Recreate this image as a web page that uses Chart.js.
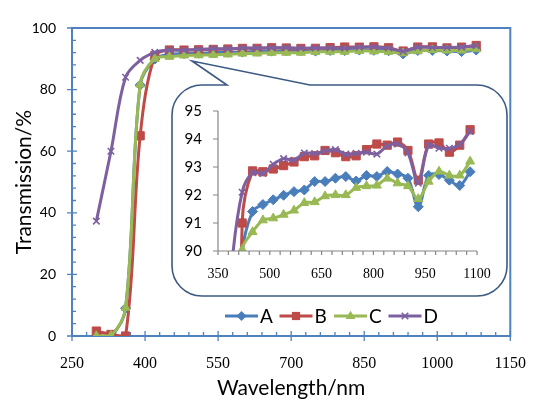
<!DOCTYPE html>
<html>
<head>
<meta charset="utf-8">
<script src="https://cdn.jsdelivr.net/npm/chart.js@4.4.1/dist/chart.umd.min.js"></script>
<style>
  html, body { margin: 0; padding: 0; background: #fff; }
  #wrap { position: relative; width: 544px; height: 408px; }
  #main { position: absolute; left: 0; top: 0; }
  #inset { position: absolute; left: 172px; top: 86px; }
</style>
</head>
<body>
<div id="wrap">
  <canvas id="main" width="544" height="408"></canvas>
  <canvas id="inset" width="334" height="209"></canvas>
</div>
<script>
// wavelength of every measured point (nm)
var wavelengths = [300, 330, 360, 390, 420, 450, 480, 510, 540, 570, 600, 630, 660, 690,
                   720, 750, 780, 810, 840, 870, 900, 930, 960, 990, 1020, 1050, 1080];

// transmission (%)
var seriesA = [0, 0.1, 9.0, 81.5, 89.9, 91.41, 91.66, 91.83, 91.99, 92.12, 92.18, 92.48, 92.48, 92.6,
               92.66, 92.5, 92.7, 92.66, 92.84, 92.75, 92.6, 91.58, 92.7, 92.73, 92.53, 92.34, 92.83];
var seriesB = [1.6, 0.5, 0, 65, 91.0, 92.86, 92.83, 92.93, 93.05, 93.18, 93.37, 93.4, 93.59, 93.51,
               93.37, 93.4, 93.62, 93.82, 93.78, 93.89, 93.59, 92.53, 93.82, 93.86, 93.53, 93.78, 94.33];
var seriesC = [0, 0.1, 9.2, 81.7, 90.05, 90.68, 91.1, 91.17, 91.3, 91.45, 91.72, 91.75, 91.96, 92.0,
               92.0, 92.26, 92.32, 92.34, 92.59, 92.42, 92.32, 91.86, 92.48, 92.84, 92.7, 92.7, 93.2];
var seriesD = [37.3, 60, 84, 89.5, 92.1, 92.8, 92.77, 93.1, 93.3, 93.24, 93.5, 93.48, 93.57, 93.62,
               93.46, 93.49, 93.53, 93.46, 93.75, 93.82, 93.5, 92.42, 93.78, 93.67, 93.67, 93.8, 94.27];

var seriesNames = ['A', 'B', 'C', 'D'];

var mainXTicks = [250, 400, 550, 700, 850, 1000, 1150];
var mainYTicks = [0, 20, 40, 60, 80, 100];
var insetXTicks = [350, 500, 650, 800, 950, 1100];
var insetYTicks = [90, 91, 92, 93, 94, 95];

var colors = ['#4a7ebb', '#be4b48', '#98b954', '#7d60a0'];
var markers = ['rectRot', 'rect', 'triangle', 'crossRot'];
var markerSize = [5, 5.8, 5.2, 4.6];
var axisBlue = '#4f81bd';
var sans = 'Lato';
var serif = 'Liberation Serif';

function makeDatasets() {
  return [seriesA, seriesB, seriesC, seriesD].map(function (vals, i) {
    return {
      label: seriesNames[i],
      data: wavelengths.map(function (w, j) { return { x: w, y: vals[j] }; }),
      order: 3 - i, // later series on top, like the original
      borderColor: colors[i],
      backgroundColor: colors[i],
      pointBorderColor: colors[i],
      pointBackgroundColor: colors[i],
      borderWidth: 3,
      pointStyle: markers[i],
      pointRadius: markerSize[i],
      pointBorderWidth: i === 3 ? 1.6 : 1,
      tension: 0.35
    };
  });
}

function setTicks(list) {
  return function (scale) {
    scale.ticks = list.map(function (v) { return { value: v }; });
  };
}

function plainLabel(v) { return String(v); }

function drawMarker(ctx, style, x, y, r, color) {
  ctx.fillStyle = color;
  ctx.strokeStyle = color;
  ctx.beginPath();
  if (style === 'rect') {
    var s = r * Math.SQRT1_2;
    ctx.rect(x - s, y - s, 2 * s, 2 * s);
    ctx.fill();
  } else if (style === 'rectRot') {
    ctx.moveTo(x, y - r); ctx.lineTo(x + r, y); ctx.lineTo(x, y + r); ctx.lineTo(x - r, y);
    ctx.closePath(); ctx.fill();
  } else if (style === 'triangle') {
    ctx.moveTo(x, y - r); ctx.lineTo(x + r * 0.95, y + r * 0.6); ctx.lineTo(x - r * 0.95, y + r * 0.6);
    ctx.closePath(); ctx.fill();
  } else {
    var d = r * Math.SQRT1_2;
    ctx.lineWidth = 1.6;
    ctx.moveTo(x - d, y - d); ctx.lineTo(x + d, y + d);
    ctx.moveTo(x + d, y - d); ctx.lineTo(x - d, y + d);
    ctx.stroke();
  }
}

// frame, inner ticks, callout and legend of the big chart
var mainDecor = {
  id: 'mainDecor',
  beforeDatasetsDraw: function (chart) {
    var ctx = chart.ctx, a = chart.chartArea, xs = chart.scales.x, ys = chart.scales.y;
    ctx.save();
    ctx.strokeStyle = axisBlue;
    ctx.lineWidth = 2;
    ctx.strokeRect(a.left, a.top, a.right - a.left, a.bottom - a.top);
    ctx.lineWidth = 1.3;
    ctx.beginPath();
    var v, p;
    for (v = xs.min; v <= xs.max + 0.01; v += 30) {
      p = xs.getPixelForValue(v);
      ctx.moveTo(p, a.bottom); ctx.lineTo(p, a.bottom - 4);
    }
    mainXTicks.forEach(function (t) {
      p = xs.getPixelForValue(t);
      ctx.moveTo(p, a.bottom + 5); ctx.lineTo(p, a.bottom - 5);
    });
    for (v = ys.min; v <= ys.max + 0.01; v += 4) {
      p = ys.getPixelForValue(v);
      ctx.moveTo(a.left, p); ctx.lineTo(a.left + 4, p);
    }
    mainYTicks.forEach(function (t) {
      p = ys.getPixelForValue(t);
      ctx.moveTo(a.left - 5, p); ctx.lineTo(a.left + 5, p);
    });
    ctx.stroke();
    ctx.restore();
  },
  afterDatasetsDraw: function (chart) {
    var ctx = chart.ctx;
    ctx.save();
    // callout box behind the inset
    var L = 172, T = 85, R = 507, B = 296, r = 30;
    ctx.beginPath();
    ctx.moveTo(310, T);
    ctx.lineTo(R - r, T);
    ctx.arcTo(R, T, R, T + r, r);
    ctx.lineTo(R, B - r);
    ctx.arcTo(R, B, R - r, B, r);
    ctx.lineTo(L + r, B);
    ctx.arcTo(L, B, L, B - r, r);
    ctx.lineTo(L, T + r);
    ctx.arcTo(L, T, L + r, T, r);
    ctx.lineTo(227, T);
    ctx.lineTo(192, 61);
    ctx.closePath();
    ctx.fillStyle = '#fff';
    ctx.fill();
    ctx.strokeStyle = '#3c5a82';
    ctx.lineWidth = 1.6;
    ctx.stroke();

    // legend
    var x0 = 225, y0 = 316;
    ctx.font = '19px ' + sans;
    ctx.textBaseline = 'middle';
    ctx.textAlign = 'left';
    chart.data.datasets.forEach(function (ds, i) {
      ctx.strokeStyle = colors[i];
      ctx.lineWidth = 3;
      ctx.beginPath();
      ctx.moveTo(x0, y0); ctx.lineTo(x0 + 33, y0);
      ctx.stroke();
      drawMarker(ctx, markers[i], x0 + 16.5, y0, markerSize[i], colors[i]);
      ctx.fillStyle = '#000';
      ctx.fillText(ds.label, x0 + 35, y0 + 1);
      x0 += 54.5;
    });
    ctx.restore();
  }
};

// grey axes of the inset
var insetDecor = {
  id: 'insetDecor',
  afterDraw: function (chart) {
    var ctx = chart.ctx, a = chart.chartArea, xs = chart.scales.x, ys = chart.scales.y;
    ctx.save();
    ctx.strokeStyle = '#868686';
    ctx.lineWidth = 1.2;
    ctx.beginPath();
    ctx.moveTo(a.left, a.top); ctx.lineTo(a.left, a.bottom); ctx.lineTo(a.right, a.bottom);
    insetYTicks.forEach(function (t) {
      var p = ys.getPixelForValue(t);
      ctx.moveTo(a.left - 5, p); ctx.lineTo(a.left, p);
    });
    for (var v = xs.min; v <= xs.max + 0.01; v += 30) {
      var px = xs.getPixelForValue(v);
      ctx.moveTo(px, a.bottom); ctx.lineTo(px, a.bottom + 4);
    }
    ctx.stroke();
    ctx.restore();
  }
};

new Chart(document.getElementById('main'), {
  type: 'line',
  data: { datasets: makeDatasets() },
  plugins: [mainDecor],
  options: {
    responsive: false,
    animation: false,
    layout: { padding: { top: 28, right: 19, left: 0, bottom: 0 } },
    plugins: { legend: { display: false }, tooltip: { enabled: false } },
    scales: {
      x: {
        type: 'linear', min: 250, max: 1150,
        afterBuildTicks: setTicks(mainXTicks),
        afterFit: function (s) { s.height = 72; },
        grid: { display: false, drawTicks: false },
        border: { display: false },
        ticks: { font: { family: serif, size: 16 }, color: '#000', padding: 18, maxRotation: 0,
                 autoSkip: false, callback: plainLabel },
        title: { display: true, text: 'Wavelength/nm', color: '#000',
                 font: { family: sans, size: 21 }, padding: { top: 0, bottom: 7 } }
      },
      y: {
        min: 0, max: 100,
        afterBuildTicks: setTicks(mainYTicks),
        afterFit: function (s) { s.width = 72; },
        grid: { display: false, drawTicks: false },
        border: { display: false },
        ticks: { font: { family: sans, size: 14 }, color: '#000', padding: 16, callback: plainLabel },
        title: { display: true, text: 'Transmission/%', color: '#000',
                 font: { family: sans, size: 21 }, padding: { top: 12, bottom: 0 } }
      }
    }
  }
});

new Chart(document.getElementById('inset'), {
  type: 'line',
  data: { datasets: makeDatasets() },
  plugins: [insetDecor],
  options: {
    responsive: false,
    animation: false,
    layout: { padding: { top: 12, right: 29, left: 0, bottom: 0 } },
    plugins: { legend: { display: false }, tooltip: { enabled: false } },
    scales: {
      x: {
        type: 'linear', min: 350, max: 1100,
        afterBuildTicks: setTicks(insetXTicks),
        afterFit: function (s) { s.height = 44; },
        grid: { display: false, drawTicks: false },
        border: { display: false },
        ticks: { font: { family: serif, size: 14 }, color: '#000', padding: 15, maxRotation: 0,
                 autoSkip: false, callback: plainLabel }
      },
      y: {
        min: 90, max: 95,
        afterBuildTicks: setTicks(insetYTicks),
        afterFit: function (s) { s.width = 46; },
        grid: { display: false, drawTicks: false },
        border: { display: false },
        ticks: { font: { family: sans, size: 15 }, color: '#000', padding: 16, callback: plainLabel }
      }
    }
  }
});
</script>
</body>
</html>
